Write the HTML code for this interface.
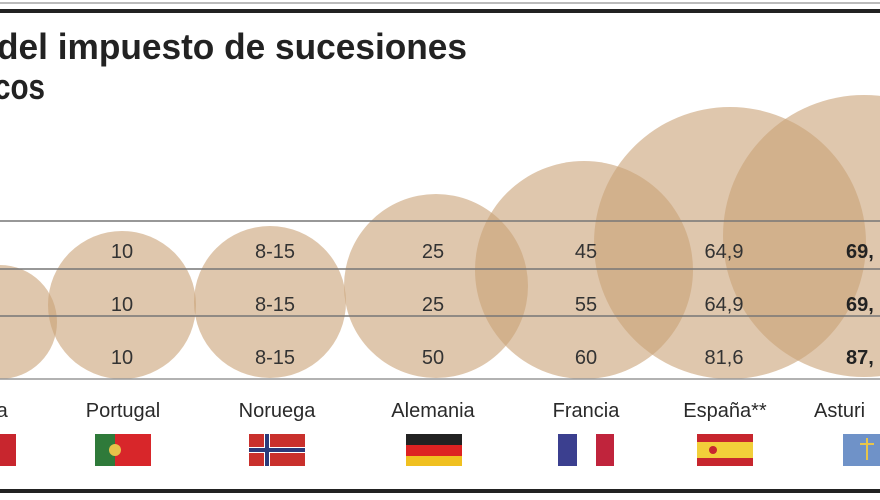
<!DOCTYPE html>
<html><head><meta charset="utf-8"><style>
body{margin:0;width:880px;height:495px;overflow:hidden;background:#fff;font-family:"Liberation Sans",sans-serif}
</style></head><body>
<svg width="880" height="495" xmlns="http://www.w3.org/2000/svg" font-family="Liberation Sans, sans-serif">
<rect x="0" y="2" width="880" height="2" fill="#bbb"/>
<rect x="0" y="9" width="880" height="4" fill="#222"/>
<text x="-3" y="59" font-size="36" font-weight="bold" fill="#222" textLength="470" lengthAdjust="spacingAndGlyphs">del impuesto de sucesiones</text>
<text x="-6" y="99" font-size="36" font-weight="bold" fill="#222" textLength="51" lengthAdjust="spacingAndGlyphs">cos</text>
<g fill="#c9a177" fill-opacity="0.6">
<circle cx="0" cy="322" r="57"/>
<circle cx="122" cy="305" r="74"/>
<circle cx="270" cy="302" r="76"/>
<circle cx="436" cy="286" r="92"/>
<circle cx="584" cy="270" r="109"/>
<circle cx="730" cy="243" r="136"/>
<circle cx="864" cy="236" r="141"/>
</g>
<g stroke="#777" stroke-width="1.5">
<line x1="0" y1="221" x2="880" y2="221"/>
<line x1="0" y1="269" x2="880" y2="269"/>
<line x1="0" y1="316" x2="880" y2="316"/>
<line x1="0" y1="379" x2="880" y2="379" stroke="#999"/>
</g>
<g font-size="20" fill="#333" text-anchor="middle">
<text x="122" y="258">10</text><text x="122" y="311">10</text><text x="122" y="364">10</text>
<text x="275" y="258">8-15</text><text x="275" y="311">8-15</text><text x="275" y="364">8-15</text>
<text x="433" y="258">25</text><text x="433" y="311">25</text><text x="433" y="364">50</text>
<text x="586" y="258">45</text><text x="586" y="311">55</text><text x="586" y="364">60</text>
<text x="724" y="258">64,9</text><text x="724" y="311">64,9</text><text x="724" y="364">81,6</text>
</g>
<g font-size="20" fill="#222" font-weight="bold">
<text x="846" y="258">69,</text><text x="846" y="311">69,</text><text x="846" y="364">87,</text>
</g>
<g font-size="20" fill="#2a2a2a" text-anchor="middle">
<text x="0" y="417">ia</text>
<text x="123" y="417">Portugal</text>
<text x="277" y="417">Noruega</text>
<text x="433" y="417">Alemania</text>
<text x="586" y="417">Francia</text>
<text x="725" y="417">España**</text>
</g>
<text x="814" y="417" font-size="20" fill="#2a2a2a">Asturi</text>
<rect x="0" y="434" width="16" height="32" fill="#c8262e"/>
<rect x="95" y="434" width="56" height="32" fill="#d8262a"/><rect x="95" y="434" width="20" height="32" fill="#2f7a3a"/><circle cx="115" cy="450" r="6" fill="#e7c24a"/>
<rect x="249" y="434" width="56" height="32" fill="#c9302c"/><rect x="249" y="447" width="56" height="6" fill="#fff"/><rect x="264" y="434" width="6" height="32" fill="#fff"/><rect x="249" y="448" width="56" height="4" fill="#2b3a7a"/><rect x="265" y="434" width="4" height="32" fill="#2b3a7a"/>
<rect x="406" y="434" width="56" height="11" fill="#222"/><rect x="406" y="445" width="56" height="11" fill="#d22"/><rect x="406" y="456" width="56" height="10" fill="#f0c020"/>
<rect x="558" y="434" width="19" height="32" fill="#3b3f8f"/><rect x="596" y="434" width="18" height="32" fill="#c0243c"/>
<rect x="697" y="434" width="56" height="32" fill="#c7262e"/><rect x="697" y="442" width="56" height="16" fill="#f2cf3a"/><circle cx="713" cy="450" r="4" fill="#c7262e"/>
<rect x="843" y="434" width="40" height="32" fill="#6f92c8"/><rect x="866" y="438" width="2" height="22" fill="#e8c54a"/><rect x="860" y="443" width="14" height="2" fill="#e8c54a"/>
<rect x="0" y="489" width="880" height="4" fill="#222"/>
</svg>
</body></html>
